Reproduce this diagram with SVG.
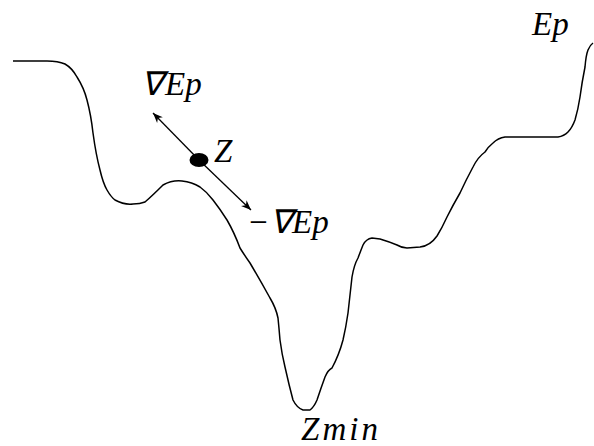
<svg xmlns="http://www.w3.org/2000/svg" width="594" height="446" viewBox="0 0 594 446">
<defs>
<marker id="ah" viewBox="0 0 10 10" refX="10" refY="5" markerWidth="10" markerHeight="10" markerUnits="userSpaceOnUse" orient="auto">
<path d="M0,1 L10,5 L0,9 L3,5 Z" fill="#000"/>
</marker>
</defs>
<g id="curve" fill="none" stroke="#000" stroke-width="1.5" stroke-linejoin="round">
<path d="M13,61 L47,61 Q58,61 65,64 Q72,68 77,77 Q84,88 87,100 Q91,115 93,133 Q96,155 100,170 Q103,183 107,190 Q111,197 115,200 Q124,205 133,204 Q140,204 145,202 Q152,196 163,185 Q172,180 182,181 Q192,182 200,187 Q207,192 213,200 Q220,209 227,220 Q234,232 240,248 Q245,256 250,263 Q260,280 270,298 Q276,308 278,318 Q279,328 280,340 Q282,355 285,367 Q289,385 293,400 Q297,408 303,410 L310,410 Q314,407 317,400 Q321,388 325,377 Q328,370 332,368 Q339,355 343,340 Q346,327 348,313 Q350,295 352,277 Q354,265 358,258 Q361,250 363,245 Q366,239 372,238 L380,239 Q390,242 397,245 Q402,248 407,248 L420,247 Q430,246 437,236 Q442,228 447,217 Q453,205 460,193 Q466,180 473,167 Q478,157 485,152 Q488,147 493,143 Q498,138 505,137 L558,137 Q564,136 568,132 Q572,128 575,120 Q578,110 580,97 Q582,82 585,67 Q586,55 588,50 Q590,45 593,43"/>
</g>
<g id="connectors" fill="none" stroke="#000" stroke-width="1.3">
<line x1="199" y1="160" x2="153" y2="113" marker-end="url(#ah)"/>
<line x1="199" y1="160" x2="251" y2="210" marker-end="url(#ah)"/>
</g>
<g id="point-z">
<ellipse cx="199" cy="160" rx="9.5" ry="7" fill="#000"/>
<text x="214" y="162" font-family="Liberation Serif, Times New Roman, serif" font-style="italic" font-size="33">Z</text>
</g>
<g id="label-grad">
<text x="141" y="95" font-family="Liberation Serif, Times New Roman, serif" font-style="italic" font-size="33">∇<tspan x="165">Ep</tspan></text>
</g>
<g id="label-neg-grad">
<text x="247" y="233" font-family="Liberation Serif, Times New Roman, serif" font-style="italic" font-size="33">−<tspan x="270">∇</tspan><tspan x="292">Ep</tspan></text>
</g>
<g id="label-ep">
<text x="532" y="35" font-family="Liberation Serif, Times New Roman, serif" font-style="italic" font-size="33">Ep</text>
</g>
<g id="label-zmin">
<text x="301" y="440" textLength="77" lengthAdjust="spacing" font-family="Liberation Serif, Times New Roman, serif" font-style="italic" font-size="33">Zmin</text>
</g>
</svg>
